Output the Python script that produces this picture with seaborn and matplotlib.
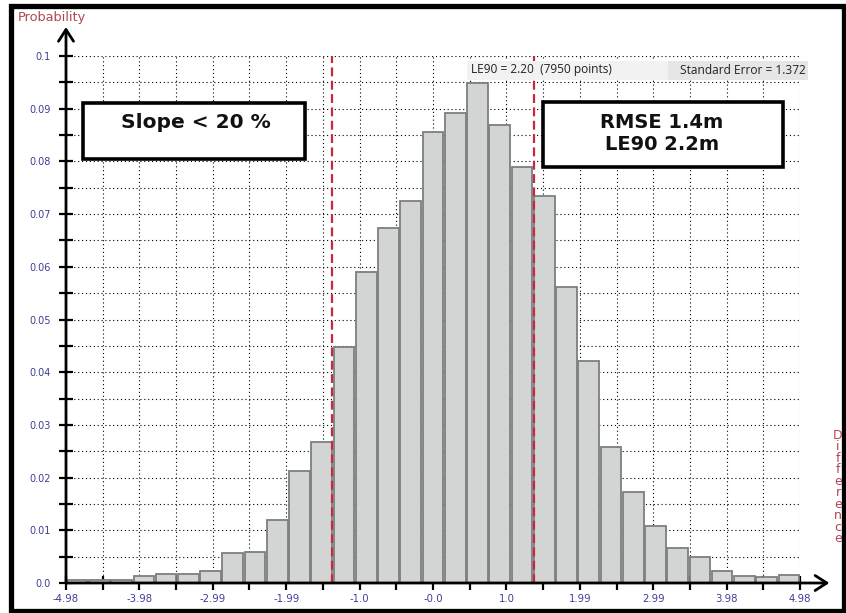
import numpy as np
import pandas as pd
import matplotlib
matplotlib.use('Agg')
import matplotlib.pyplot as plt
from matplotlib.patches import Rectangle
import seaborn as sns

# Histogram data (33 bins between -4.98 and 4.98)
x_min, x_max = -4.98, 4.98
n_bins = 33
probs = [0.0006, 0.0005, 0.0005, 0.0014, 0.0018, 0.0018, 0.0022, 0.0056,
         0.0058, 0.0119, 0.0212, 0.0267, 0.0448, 0.0590, 0.0673, 0.0725,
         0.0856, 0.0892, 0.0948, 0.0870, 0.0790, 0.0734, 0.0561, 0.0421,
         0.0259, 0.0173, 0.0108, 0.0066, 0.0049, 0.0022, 0.0013, 0.0011,
         0.0015]
x_tick_labels = ['-4.98', '-3.98', '-2.99', '-1.99', '-1.0', '-0.0',
                 '1.0', '1.99', '2.99', '3.98', '4.98']
y_ticks = [0.0, 0.01, 0.02, 0.03, 0.04, 0.05, 0.06, 0.07, 0.08, 0.09, 0.1]
y_tick_labels = ['0.0', '0.01', '0.02', '0.03', '0.04', '0.05', '0.06',
                 '0.07', '0.08', '0.09', '0.1']
std_error = 1.372
le90 = 2.20
n_points = 7950

edges = np.linspace(x_min, x_max, n_bins + 1)
df = pd.DataFrame({'diff': (edges[:-1] + edges[1:]) / 2, 'prob': probs})

sns.set_theme(style='white')
plt.rcParams['font.family'] = ['DejaVu Sans']

W, H = 846, 613
fig = plt.figure(figsize=(W / 100, H / 100), dpi=100)
fig.patch.set_facecolor('white')


def fx(px):
    return px / W


def fy(py):
    return 1 - py / H


ax = fig.add_axes([fx(66), fy(583), fx(800) - fx(66), fy(56) - fy(583)])
ax.set_facecolor('white')

sns.histplot(data=df, x='diff', weights='prob', bins=n_bins,
             binrange=(x_min, x_max), ax=ax,
             color='#d3d4d4', edgecolor='#7b7f7f', linewidth=1.3,
             shrink=0.93, alpha=1, zorder=3)

ax.set_xlim(x_min, x_max)
ax.set_ylim(0, 0.1)
ax.set_xlabel('')
ax.set_ylabel('')

# ticks
ax.set_xticks(np.linspace(x_min, x_max, 11))
ax.set_xticklabels(x_tick_labels)
ax.set_xticks(np.linspace(x_min, x_max, 21), minor=True)
ax.set_yticks(y_ticks)
ax.set_yticklabels(y_tick_labels)
ax.set_yticks(np.arange(0, 0.1001, 0.005), minor=True)
ax.tick_params(which='both', direction='inout', length=10, width=1.6,
               color='black', left=True, bottom=True)
ax.tick_params(axis='x', which='major', pad=3, labelsize=7.3,
               labelcolor='#3d3d96')
ax.tick_params(axis='y', which='major', pad=6, labelsize=7,
               labelcolor='#3d3d96')

# dotted grid
ax.grid(which='both', color='black', linestyle=(0, (1, 2.5)), linewidth=0.8)
ax.set_axisbelow(True)

for side in ['top', 'right', 'left', 'bottom']:
    ax.spines[side].set_visible(False)

# axis lines with open arrow heads
ax.annotate('', xy=(1.04, 0), xytext=(0, 0), xycoords='axes fraction',
            arrowprops=dict(arrowstyle='->,head_length=0.7,head_width=0.45',
                            lw=2, color='black', shrinkA=0, shrinkB=0),
            annotation_clip=False, zorder=6)
ax.annotate('', xy=(0, 1.055), xytext=(0, 0), xycoords='axes fraction',
            arrowprops=dict(arrowstyle='->,head_length=0.7,head_width=0.45',
                            lw=2, color='black', shrinkA=0, shrinkB=0),
            annotation_clip=False, zorder=6)

# standard error lines
for v in [-std_error, std_error]:
    ax.axvline(v, color='#c8283c', linestyle=(0, (4, 2)), linewidth=1.6,
               zorder=5)

# header strip
fig.patches.append(Rectangle((fx(467), fy(80)), fx(668) - fx(467),
                             fy(61) - fy(80), transform=fig.transFigure,
                             facecolor='#f2f2f2', edgecolor='none', zorder=4))
fig.patches.append(Rectangle((fx(668), fy(80)), fx(808) - fx(668),
                             fy(61) - fy(80), transform=fig.transFigure,
                             facecolor='#e6e6e6', edgecolor='none', zorder=4))
fig.text(fx(471), fy(70), f'LE90 = {le90:.2f}  ({n_points} points)',
         fontsize=8.6, color='#222222', va='center', ha='left',
         family='Open Sans', zorder=12)
fig.text(fx(806), fy(70), f'Standard Error = {std_error}',
         fontsize=8.6, color='#222222', va='center', ha='right',
         family='Open Sans', zorder=12)

# annotation boxes
fig.patches.append(Rectangle((fx(83), fy(159)), fx(305) - fx(83),
                             fy(103) - fy(159), transform=fig.transFigure,
                             facecolor='white', edgecolor='black',
                             linewidth=2.6, zorder=4))
fig.text(fx(196), fy(123), 'Slope < 20 %', fontsize=14.5, fontweight='bold',
         ha='center', va='center', color='#111111', zorder=12)
fig.patches.append(Rectangle((fx(543), fy(167)), fx(783) - fx(543),
                             fy(102) - fy(167), transform=fig.transFigure,
                             facecolor='white', edgecolor='black',
                             linewidth=2.6, zorder=4))
fig.text(fx(662), fy(122), 'RMSE 1.4m', fontsize=14, fontweight='bold',
         ha='center', va='center', color='#111111', zorder=12)
fig.text(fx(662), fy(145), 'LE90 2.2m', fontsize=14, fontweight='bold',
         ha='center', va='center', color='#111111', zorder=12)

# axis titles
fig.text(fx(18), fy(17), 'Probability', fontsize=9.3, color='#b0474f',
         ha='left', va='center', zorder=12)
fig.text(fx(838), fy(487), '\n'.join('Difference'), fontsize=9,
         color='#b0474f', ha='center', va='center', linespacing=0.85,
         zorder=12)

# outer black frame
fig.patches.append(Rectangle((fx(10.5), fy(610.5)), fx(843.5) - fx(10.5),
                             fy(5.5) - fy(610.5), transform=fig.transFigure,
                             facecolor='none', edgecolor='black',
                             linewidth=3.8, zorder=10))

fig.savefig('out.png', dpi=100)
